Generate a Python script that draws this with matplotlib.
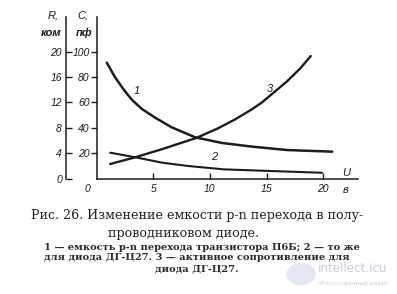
import matplotlib
matplotlib.use("Agg")
import matplotlib.pyplot as plt
from matplotlib.patches import Circle

# curve 1: capacitance of p-n junction, transistor P6B (pF)
u1 = [0.9, 1.6, 2.4, 3.1, 4.0, 5.2, 6.6, 8.7, 11.1, 13.8, 16.8, 20.8]
c1 = [91.3, 80.2, 70.0, 62.2, 54.8, 47.8, 40.5, 32.5, 28.0, 25.1, 22.5, 21.2]
# curve 2: same for diode DG-Ts27 (pF)
u2 = [1.2, 3.4, 5.8, 8.1, 11.2, 15.3, 19.9]
c2 = [20.4, 16.8, 12.5, 9.9, 7.3, 6.0, 4.6]
# curve 3: active resistance of diode DG-Ts27 (kOhm)
u3 = [1.2, 3.4, 5.8, 8.8, 10.7, 12.2, 13.7, 14.6, 16.8, 18.0, 18.9]
r3 = [2.3, 3.35, 4.65, 6.4, 7.9, 9.3, 10.9, 12.0, 15.3, 17.4, 19.3]

x_ticks = [5, 10, 15, 20]
c_ticks = [20, 40, 60, 80, 100]
r_ticks = [0, 4, 8, 12, 16, 20]

W, H = 397, 294
INK = "#1c1c1c"
tick_font = dict(family="Liberation Sans", style="italic", size=7.5)


def fx(px):
    return px / W


def fy(py):
    return 1 - py / H


fig = plt.figure(figsize=(W / 100, H / 100), dpi=100)
fig.patch.set_facecolor("white")

ax = fig.add_axes([fx(96.6), fy(178.6), 261.7 / W, 161.3 / H])
ax.set_xlim(0, 23.1)
ax.set_ylim(0, 127)
ax.patch.set_alpha(0)
for s in ("top", "right"):
    ax.spines[s].set_visible(False)
for s in ("left", "bottom"):
    ax.spines[s].set_color(INK)
    ax.spines[s].set_linewidth(1.1)

ax.plot(u1, c1, color=INK, lw=1.8, solid_capstyle="round", solid_joinstyle="round")
ax.plot(u2, c2, color=INK, lw=1.5, solid_capstyle="round", solid_joinstyle="round")

ax.set_xticks(x_ticks)
ax.set_xticklabels([str(v) for v in x_ticks], fontdict=tick_font)
ax.tick_params(axis="x", direction="in", length=4, width=1, pad=4, colors=INK)
ax.set_yticks(c_ticks)
ax.set_yticklabels([str(v) for v in c_ticks], fontdict=tick_font)
ax.tick_params(axis="y", direction="out", length=4, width=1, pad=1, colors=INK)

axr = ax.twinx()
axr.set_ylim(0, 127 / 5)
axr.patch.set_alpha(0)
for s in ("top", "right", "bottom"):
    axr.spines[s].set_visible(False)
axr.spines["left"].set_visible(True)
axr.spines["left"].set_position(("axes", (66 - 96.6) / 261.7))
axr.spines["left"].set_color(INK)
axr.spines["left"].set_linewidth(1.1)
axr.yaxis.set_ticks_position("left")
axr.yaxis.set_label_position("left")
axr.set_yticks(r_ticks)
axr.set_yticklabels([str(v) for v in r_ticks], fontdict=tick_font)
axr.tick_params(axis="y", direction="in", length=4, width=1, pad=3, colors=INK)
axr.plot(u3, r3, color=INK, lw=1.7, solid_capstyle="round", solid_joinstyle="round")

# curve numbers
num = dict(family="Liberation Sans", style="italic", size=8)
ax.text(3.3, 67, "1", fontdict=num, color=INK)
ax.text(10.1, 14.5, "2", fontdict=num, color=INK)
ax.text(15.0, 68, "3", fontdict=num, color=INK)
ax.text(-0.8, -8.5, "0", ha="center", va="center", fontdict=tick_font, color=INK)

lab = dict(family="Liberation Sans", style="italic", size=8, color=INK)
fig.text(fx(53), fy(16), "R,", ha="center", va="center", **lab)
fig.text(fx(51), fy(33), "ком", ha="center", va="center", weight="bold", **lab)
fig.text(fx(83), fy(16), "C,", ha="center", va="center", **lab)
fig.text(fx(84), fy(33), "пф", ha="center", va="center", weight="bold", **lab)
fig.text(fx(346), fy(173), "U", ha="center", va="center", **lab)
fig.text(fx(346), fy(190), "в", ha="center", va="center", **lab)

cap = dict(family="DejaVu Serif", size=9.1, color="#222222")
fig.text(fx(197), fy(216), "Рис. 26. Изменение емкости p-n перехода в полу-",
         ha="center", va="center", **cap)
fig.text(fx(183), fy(233), "проводниковом диоде.", ha="center", va="center", **cap)

small = dict(family="DejaVu Serif", size=7.1, weight="bold", color="#2a2a2a")
fig.text(fx(202), fy(247), "1 — емкость p-n перехода транзистора П6Б; 2 — то же",
         ha="center", va="center", **small)
fig.text(fx(197), fy(258), "для диода ДГ-Ц27. 3 — активное сопротивление для",
         ha="center", va="center", **small)
fig.text(fx(197), fy(269), "диода ДГ-Ц27.", ha="center", va="center", **small)

# watermark
fig.patches.append(Circle((fx(301), fy(274)), 14 / W, transform=fig.transFigure,
                          color="#e3e7f3", zorder=0))
fig.text(fx(318), fy(268), "intellect.icu", ha="left", va="center",
         family="DejaVu Sans", size=8.6, color="#c8ccd6")
fig.text(fx(319), fy(283), "Искусственный разум", ha="left", va="center",
         family="DejaVu Sans", size=4.3, color="#c8ccd6")

fig.savefig("out.png", dpi=100, facecolor="white")
